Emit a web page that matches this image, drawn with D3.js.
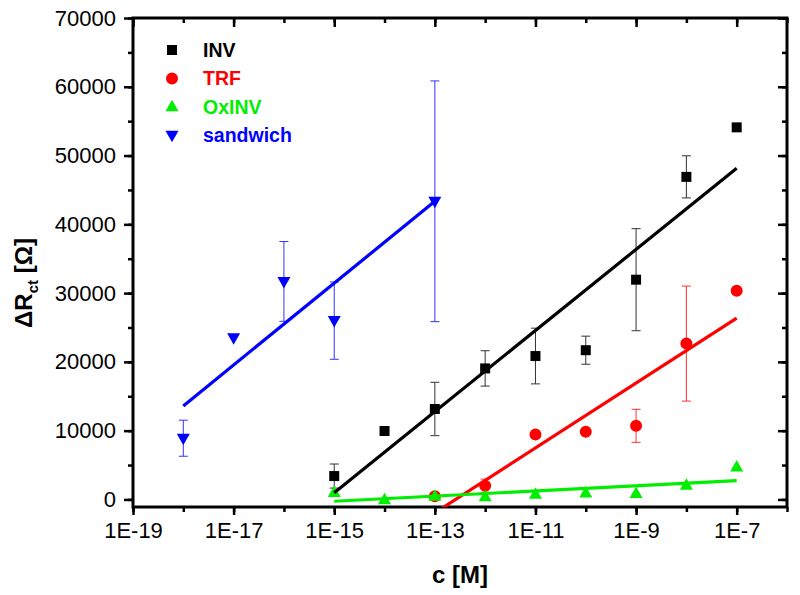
<!DOCTYPE html>
<html>
<head>
<meta charset="utf-8">
<script src="https://cdn.jsdelivr.net/npm/d3@7/dist/d3.min.js"></script>
<style>
  html, body { margin: 0; padding: 0; background: #fff; }
  svg { display: block; font-family: "Liberation Sans", Arial, sans-serif; }
</style>
</head>
<body>
<svg id="chart" width="800" height="595"></svg>
<script>
// ---------- DATA ----------
const xTickValues = [1e-19, 1e-17, 1e-15, 1e-13, 1e-11, 1e-9, 1e-7];
const xTickLabels = ["1E-19", "1E-17", "1E-15", "1E-13", "1E-11", "1E-9", "1E-7"];
const yTickValues = [0, 10000, 20000, 30000, 40000, 50000, 60000, 70000];

const invConc  = [1e-15, 1e-14, 1e-13, 1e-12, 1e-11, 1e-10, 1e-9, 1e-8, 1e-7];
const invVal   = [3400, 9950, 13150, 19050, 20850, 21700, 31950, 46900, 54100];
const invErr   = [1750, 0, 3880, 2570, 4050, 2040, 7420, 3060, 0];

const trfConc  = [1e-13, 1e-12, 1e-11, 1e-10, 1e-9, 1e-8, 1e-7];
const trfVal   = [480, 2000, 9450, 9850, 10700, 22660, 30350];
const trfErr   = [300, 950, 350, 0, 2400, 8360, 500];

const oxConc   = [1e-15, 1e-14, 1e-13, 1e-12, 1e-11, 1e-10, 1e-9, 1e-8, 1e-7];
const oxVal    = [1000, -50, 450, 400, 750, 950, 850, 2050, 4700];
const oxErr    = [0, 0, 0, 0, 0, 0, 0, 0, 0];

const sanConc  = [1e-18, 1e-17, 1e-16, 1e-15, 1e-13];
const sanVal   = [8900, 23500, 31700, 26000, 43350];
const sanErr   = [2620, 0, 5800, 5620, 17500];

const seriesNames  = ["INV", "TRF", "OxINV", "sandwich"];
const seriesColors = ["#000000", "#ff0000", "#00ee00", "#0000ff"];
const seriesShapes = ["square", "circle", "triUp", "triDown"];

// ---------- LAYOUT ----------
const svg = d3.select("#chart");
const L = 133, R = 787, T = 18, B = 507;

const x = d3.scaleLog().domain([1e-19, 1e-6]).range([L, R]);
const y = d3.scaleLinear().domain([-1100, 70000]).range([B, T]);

svg.append("defs").append("clipPath").attr("id", "plotclip")
  .append("rect").attr("x", L).attr("y", T).attr("width", R - L).attr("height", B - T);

// ---------- AXES ----------
const minorX = d3.range(-19, -5).map(e => Math.pow(10, e));
const minorY = d3.range(0, 70001, 5000);

function styleAxis(g) {
  g.selectAll(".domain").remove();
  g.selectAll(".tick line").attr("stroke", "#000").attr("stroke-width", 2.5);
  g.selectAll(".tick text").attr("font-size", 22).attr("fill", "#000")
    .attr("font-family", "'Liberation Sans', Arial, sans-serif");
}

// bottom minor
svg.append("g").attr("transform", `translate(0,${B})`)
  .call(d3.axisBottom(x).tickValues(minorX).tickSize(5).tickFormat(""))
  .call(styleAxis);
// bottom major
svg.append("g").attr("transform", `translate(0,${B})`)
  .call(d3.axisBottom(x).tickValues(xTickValues).tickSize(8).tickPadding(7)
    .tickFormat((d, i) => xTickLabels[i]))
  .call(styleAxis);
// top (inward)
svg.append("g").attr("transform", `translate(0,${T})`)
  .call(d3.axisBottom(x).tickValues(minorX).tickSize(5).tickFormat(""))
  .call(styleAxis);
svg.append("g").attr("transform", `translate(0,${T})`)
  .call(d3.axisBottom(x).tickValues(xTickValues).tickSize(9).tickFormat(""))
  .call(styleAxis);
// left minor + major
svg.append("g").attr("transform", `translate(${L},0)`)
  .call(d3.axisLeft(y).tickValues(minorY).tickSize(5).tickFormat(""))
  .call(styleAxis);
svg.append("g").attr("transform", `translate(${L},0)`)
  .call(d3.axisLeft(y).tickValues(yTickValues).tickSize(9).tickPadding(8).tickFormat(d3.format("d")))
  .call(styleAxis);
// right (inward)
svg.append("g").attr("transform", `translate(${R},0)`)
  .call(d3.axisLeft(y).tickValues(minorY).tickSize(5).tickFormat(""))
  .call(styleAxis);
svg.append("g").attr("transform", `translate(${R},0)`)
  .call(d3.axisLeft(y).tickValues(yTickValues).tickSize(9).tickFormat(""))
  .call(styleAxis);

// frame
svg.append("rect").attr("x", L).attr("y", T).attr("width", R - L).attr("height", B - T)
  .attr("fill", "none").attr("stroke", "#000").attr("stroke-width", 3);

// ---------- AXIS TITLES ----------
svg.append("text").attr("x", (L + R) / 2).attr("y", 583).attr("text-anchor", "middle")
  .attr("font-size", 24).attr("font-weight", "bold").text("c [M]");

const yt = svg.append("text").attr("transform", "translate(32,283) rotate(-90)")
  .attr("text-anchor", "middle").attr("font-size", 24).attr("font-weight", "bold");
yt.append("tspan").text("\u0394R");
yt.append("tspan").attr("font-size", 15).attr("dy", 6).text("ct");
yt.append("tspan").attr("dy", -6).text(" [\u03A9]");

// ---------- MARKERS ----------
function markerPath(shape) {
  if (shape === "square") return "M-5,-5H5V5H-5Z";
  if (shape === "circle") return d3.symbol(d3.symbolCircle, 113)();
  if (shape === "triUp") return "M0,-7L6.5,4.5L-6.5,4.5Z";
  return "M0,7L6.5,-4.5L-6.5,-4.5Z";
}

const series = [
  { conc: invConc, val: invVal, err: invErr },
  { conc: trfConc, val: trfVal, err: trfErr },
  { conc: oxConc,  val: oxVal,  err: oxErr },
  { conc: sanConc, val: sanVal, err: sanErr }
].map((s, i) => ({ ...s, name: seriesNames[i], color: seriesColors[i], shape: seriesShapes[i],
  pts: s.conc.map((c, j) => ({ c, v: s.val[j], e: s.err[j] })) }));

const plot = svg.append("g").attr("clip-path", "url(#plotclip)");

// error bars
series.forEach(s => {
  const g = plot.append("g").attr("stroke", s.color).attr("stroke-width", 1).attr("opacity", 0.8);
  s.pts.filter(p => p.e > 0).forEach(p => {
    const cx = x(p.c);
    g.append("line").attr("x1", cx).attr("x2", cx).attr("y1", y(p.v - p.e)).attr("y2", y(p.v + p.e));
    g.append("line").attr("x1", cx - 4.5).attr("x2", cx + 4.5).attr("y1", y(p.v + p.e)).attr("y2", y(p.v + p.e));
    g.append("line").attr("x1", cx - 4.5).attr("x2", cx + 4.5).attr("y1", y(p.v - p.e)).attr("y2", y(p.v - p.e));
  });
});

// points
series.forEach(s => {
  plot.append("g").selectAll("path").data(s.pts).join("path")
    .attr("d", markerPath(s.shape))
    .attr("transform", p => `translate(${x(p.c)},${y(p.v)})`)
    .attr("fill", s.color);
});

// linear fits (value vs log10 c)
series.forEach(s => {
  const lx = s.conc.map(c => Math.log10(c));
  const mx = d3.mean(lx), my = d3.mean(s.val);
  const sxy = d3.sum(lx, (v, i) => (v - mx) * (s.val[i] - my));
  const sxx = d3.sum(lx, v => (v - mx) * (v - mx));
  const b = sxy / sxx, a = my - b * mx;
  const ends = d3.extent(lx);
  const line = d3.line().x(d => x(Math.pow(10, d))).y(d => y(a + b * d));
  plot.append("path").datum(ends).attr("d", line)
    .attr("fill", "none").attr("stroke", s.color).attr("stroke-width", 3.2);
});

// ---------- LEGEND ----------
const leg = svg.append("g");
series.forEach((s, i) => {
  const yy = 50 + i * 28.4;
  leg.append("path").attr("d", markerPath(s.shape)).attr("transform", `translate(172,${yy})`).attr("fill", s.color);
  leg.append("text").attr("x", 203).attr("y", yy + 7).attr("font-size", 19.5).attr("font-weight", "bold")
    .attr("fill", s.color).text(s.name);
});
</script>
</body>
</html>
